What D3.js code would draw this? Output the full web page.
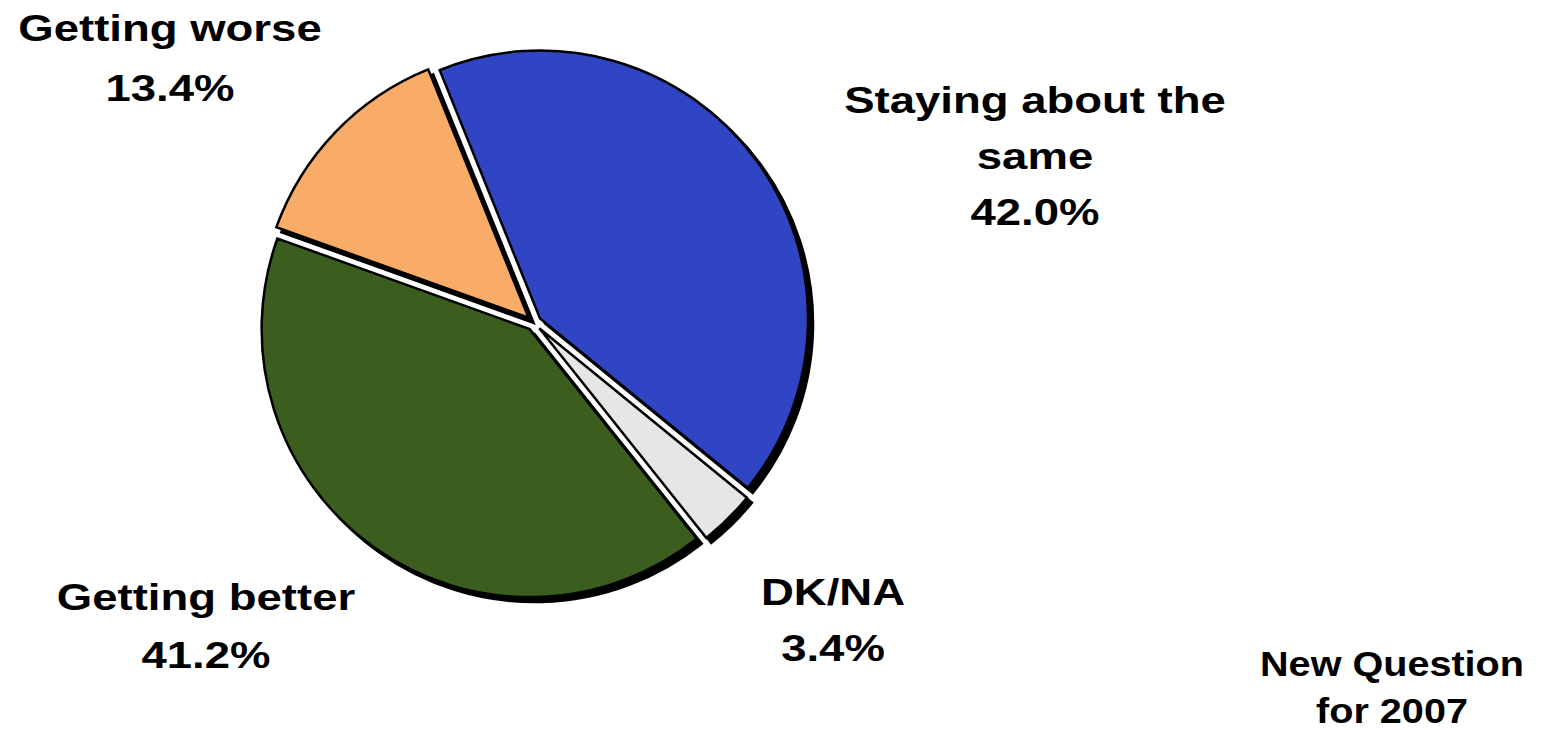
<!DOCTYPE html>
<html><head><meta charset="utf-8">
<script src="https://cdn.jsdelivr.net/npm/d3@7"></script>
<style>body{margin:0;background:#fff}svg{display:block}text{font-family:"Liberation Sans",Arial,sans-serif;font-weight:bold;fill:#000}</style>
</head><body>
<svg id="chart" width="1543" height="730"></svg>
<script>
const categories = ["Staying about the same", "DK/NA", "Getting better", "Getting worse"];
const values = [42.0, 3.4, 41.2, 13.4];
const colors = ["#3045C3", "#E6E6E6", "#3B5E1E", "#F9AC68"];
const labelLines = [["Staying about the", "same", "42.0%"], ["DK/NA", "3.4%"], ["Getting better", "41.2%"], ["Getting worse", "13.4%"]];
const labelPos = [[1035, 100], [833, 592], [206, 597], [170, 28]];
const note = ["New Question", "for 2007"];

const svg = d3.select("#chart");
const cx = 534, cy = 323, R = 268;
const startDeg = -22;
const pie = d3.pie().sort(null).startAngle(startDeg * Math.PI / 180).endAngle((startDeg + 360) * Math.PI / 180);
const arcs = pie(values);
const arc = d3.arc().innerRadius(0).outerRadius(R);
const explode = 7.5;
function off(d) {
  const m = (d.startAngle + d.endAngle) / 2;
  return [Math.sin(m) * explode, -Math.cos(m) * explode];
}
const g = svg.append("g").attr("transform", `translate(${cx},${cy})`);
g.selectAll("path.shadow").data(arcs).join("path").attr("class", "shadow")
  .attr("d", arc).attr("fill", "#000").attr("stroke", "#000").attr("stroke-width", 2.5)
  .attr("transform", d => { const o = off(d); return `translate(${o[0] + 5},${o[1] + 5})`; });
g.selectAll("path.slice").data(arcs).join("path").attr("class", "slice")
  .attr("d", arc).attr("fill", (d, i) => colors[i]).attr("stroke", "#000").attr("stroke-width", 2.5)
  .attr("stroke-linejoin", "miter")
  .attr("transform", d => { const o = off(d); return `translate(${o[0]},${o[1]})`; });

const lh = [56, 56, 58, 60];
labelLines.forEach((lines, i) => {
  const t = svg.append("text").attr("text-anchor", "middle").attr("font-size", 37)
    .attr("transform", `translate(${labelPos[i][0]},${labelPos[i][1]}) scale(1.23,1)`)
    .attr("dominant-baseline", "central");
  lines.forEach((l, j) => t.append("tspan").attr("x", 0).attr("dy", j === 0 ? 0 : lh[i]).text(l));
});
const nt = svg.append("text").attr("text-anchor", "middle").attr("font-size", 36)
  .attr("transform", `translate(1392,664) scale(1.1,1)`).attr("dominant-baseline", "central");
note.forEach((l, j) => nt.append("tspan").attr("x", 0).attr("dy", j === 0 ? 0 : 47).text(l));
</script>
</body></html>
